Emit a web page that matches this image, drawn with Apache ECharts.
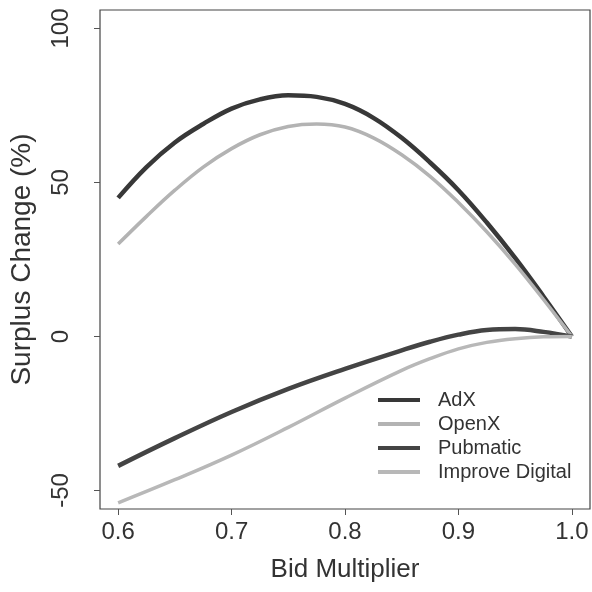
<!DOCTYPE html>
<html>
<head>
<meta charset="utf-8">
<script src="https://cdn.jsdelivr.net/npm/echarts@6/dist/echarts.min.js"></script>
<style>html,body{margin:0;padding:0;background:#fff}#c{width:592px;height:592px}</style>
</head>
<body>
<div id="c"></div>
<script>
const bidTop = [0.6, 0.625, 0.65, 0.675, 0.7, 0.725, 0.75, 0.775, 0.8, 0.825, 0.85, 0.875, 0.9, 0.925, 0.95, 0.975, 1.0];
const adx   = [45, 55, 63, 69, 74, 77, 78.3, 77.8, 75.5, 71, 64.5, 56.5, 47.5, 37, 25.5, 13, 0];
const openx = [30, 39, 47.5, 55, 61, 65.5, 68.2, 69, 68, 64.5, 59, 52, 43.5, 34, 23.5, 12, 0];
const bidBottom = [0.6, 0.65, 0.7, 0.75, 0.8, 0.85, 0.875, 0.9, 0.925, 0.95, 0.975, 1.0];
const pubmatic       = [-42, -33, -24.5, -17, -10.5, -4.5, -1.7, 0.6, 2.1, 2.4, 1.5, 0];
const improveDigital = [-54, -46.5, -38.5, -29.5, -20, -11, -7.2, -4, -1.9, -0.7, -0.1, 0];
const xTicks = [0.6, 0.7, 0.8, 0.9, 1.0];
const yTicks = [-50, 0, 50, 100];

const font = 'Liberation Sans, Arial, Helvetica, sans-serif';
function pairs(xs, ys){ return xs.map((x,i)=>[x, ys[i]]); }
function ser(name, xs, ys, color, w){
  return {name, type:'line', data:pairs(xs, ys), smooth:0.4, symbol:'none',
    lineStyle:{color, width:w}, itemStyle:{color}, z: 3};
}
const chart = echarts.init(document.getElementById('c'));
chart.setOption({
  animation:false,
  backgroundColor:'#fff',
  grid:{left:91, right:2, top:10, bottom:83, show:true, borderColor:'#444', borderWidth:1.2, backgroundColor:'transparent'},
  xAxis:{type:'value', min:0.584, max:1.016, interval:0.1,
    name:'Bid Multiplier', nameLocation:'middle', nameGap:48,
    nameTextStyle:{fontFamily:font, fontSize:26, color:'#333'},
    axisLine:{show:false, onZero:false}, splitLine:{show:false},
    axisTick:{show:true, length:6, lineStyle:{color:'#555'}, customValues: xTicks},
    axisLabel:{fontFamily:font, fontSize:24, color:'#333', margin:11, customValues: xTicks,
      formatter:v=>v.toFixed(1)}
  },
  yAxis:{type:'value', min:-56, max:106,
    name:'Surplus Change (%)', nameLocation:'middle', nameGap:64, nameRotate:90,
    nameTextStyle:{fontFamily:font, fontSize:28, color:'#333'},
    axisLine:{show:false, onZero:false}, splitLine:{show:false},
    axisTick:{show:true, length:6, lineStyle:{color:'#555'}, customValues: yTicks},
    axisLabel:{fontFamily:font, fontSize:24, color:'#333', rotate:90, margin:39,
      align:'center', verticalAlign:'middle', customValues: yTicks}
  },
  legend:{orient:'vertical', left:373, top:385, icon:'rect', itemWidth:42, itemHeight:4, itemGap:4,
    textStyle:{fontFamily:font, fontSize:20, color:'#333', padding:[0,0,0,13]},
    data:['AdX','OpenX','Pubmatic','Improve Digital']},
  series:[
    ser('AdX', bidTop, adx, '#383838', 4.5),
    ser('OpenX', bidTop, openx, '#b3b3b3', 3.5),
    ser('Pubmatic', bidBottom, pubmatic, '#444444', 4.5),
    ser('Improve Digital', bidBottom, improveDigital, '#b8b8b8', 3.5)
  ]
});
</script>
</body>
</html>
